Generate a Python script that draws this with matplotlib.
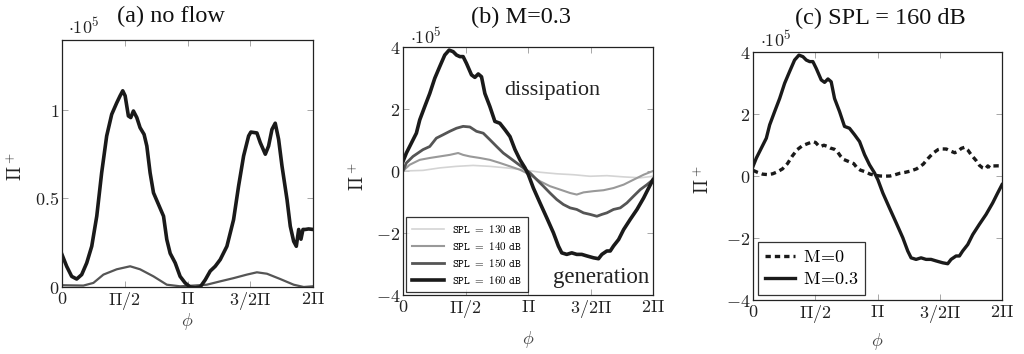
import numpy as np
import matplotlib
matplotlib.use("Agg")
import matplotlib.pyplot as plt

plt.rcParams['mathtext.fontset'] = 'cm'
plt.rcParams['font.family'] = ['DejaVu Serif']

# ---- data (phi in units of pi, values in units of 1e5) ----
phi_a160 = [0, 0.037, 0.077, 0.117, 0.157, 0.197, 0.237, 0.277, 0.316, 0.356, 0.396, 0.436, 0.463, 0.484,
            0.503, 0.529, 0.548, 0.569, 0.596, 0.622, 0.654, 0.676, 0.702, 0.729, 0.769, 0.809, 0.835, 0.862,
            0.902, 0.941, 0.981, 1.021, 1.061, 1.101, 1.141, 1.181, 1.221, 1.261, 1.314, 1.367, 1.407, 1.447,
            1.487, 1.505, 1.553, 1.580, 1.620, 1.646, 1.673, 1.699, 1.726, 1.753, 1.793, 1.819, 1.846, 1.867,
            1.886, 1.904, 1.920, 1.939, 1.965, 2.0]
val_a160 = [0.183, 0.117, 0.06, 0.045, 0.07, 0.136, 0.23, 0.40, 0.645, 0.853, 0.975, 1.04, 1.08, 1.108,
            1.08, 0.966, 0.957, 0.994, 0.957, 0.90, 0.862, 0.796, 0.645, 0.532, 0.466, 0.40, 0.268, 0.19,
            0.136, 0.06, 0.023, 0.0, -0.005, 0.0, 0.04, 0.09, 0.117, 0.155, 0.23, 0.38, 0.57, 0.74,
            0.853, 0.875, 0.87, 0.815, 0.75, 0.796, 0.89, 0.925, 0.834, 0.683, 0.494, 0.343, 0.258, 0.23,
            0.325, 0.27, 0.325, 0.325, 0.328, 0.325]

phi_a150 = [0, 0.170, 0.250, 0.330, 0.436, 0.543, 0.622, 0.729, 0.835, 0.941, 1.048, 1.154, 1.261, 1.367,
            1.473, 1.553, 1.633, 1.739, 1.846, 1.926, 2.0]
val_a150 = [0.01, 0.008, 0.023, 0.07, 0.10, 0.117, 0.10, 0.06, 0.013, 0.004, 0.008, 0.013, 0.032, 0.05,
            0.07, 0.083, 0.075, 0.045, 0.013, 0.0, 0.004]

phi_b160 = [0, 0.027, 0.067, 0.107, 0.134, 0.174, 0.214, 0.254, 0.294, 0.334, 0.369, 0.401, 0.428, 0.455,
            0.481, 0.508, 0.548, 0.575, 0.602, 0.628, 0.655, 0.695, 0.735, 0.775, 0.816, 0.856, 0.896, 0.936,
            0.976, 1.003, 1.043, 1.096, 1.150, 1.203, 1.243, 1.270, 1.310, 1.350, 1.390, 1.430, 1.471, 1.524,
            1.564, 1.591, 1.631, 1.658, 1.684, 1.725, 1.765, 1.818, 1.872, 1.925, 1.965, 2.0]
val_b160 = [0.31, 0.58, 0.90, 1.22, 1.65, 2.08, 2.50, 2.99, 3.37, 3.74, 3.90, 3.85, 3.74, 3.69,
            3.69, 3.47, 3.10, 3.02, 3.13, 3.04, 2.50, 2.08, 1.60, 1.54, 1.33, 1.11, 0.69, 0.36,
            0.10, -0.12, -0.55, -1.03, -1.51, -1.99, -2.42, -2.64, -2.69, -2.64, -2.69, -2.69, -2.74, -2.80,
            -2.83, -2.69, -2.58, -2.58, -2.42, -2.21, -1.89, -1.56, -1.24, -0.87, -0.55, -0.28]

phi_b150 = [0, 0.027, 0.080, 0.160, 0.214, 0.267, 0.321, 0.374, 0.428, 0.481, 0.535, 0.588, 0.642, 0.695,
            0.749, 0.802, 0.856, 0.909, 0.963, 1.016, 1.070, 1.123, 1.176, 1.230, 1.283, 1.337, 1.390, 1.444,
            1.497, 1.551, 1.591, 1.631, 1.684, 1.738, 1.791, 1.845, 1.898, 1.952, 2.0]
val_b150 = [0.0, 0.26, 0.47, 0.69, 0.79, 1.06, 1.17, 1.28, 1.38, 1.44, 1.42, 1.28, 1.22, 1.01,
            0.79, 0.58, 0.42, 0.26, 0.10, -0.06, -0.28, -0.49, -0.71, -0.92, -1.08, -1.19, -1.24, -1.35,
            -1.40, -1.46, -1.40, -1.35, -1.24, -1.19, -1.03, -0.81, -0.60, -0.44, -0.28]

phi_b140 = [0, 0.053, 0.134, 0.214, 0.294, 0.374, 0.441, 0.481, 0.535, 0.615, 0.695, 0.775, 0.856, 0.936,
            1.016, 1.096, 1.176, 1.257, 1.337, 1.390, 1.444, 1.524, 1.604, 1.684, 1.765, 1.845, 1.925, 2.0]
val_b140 = [0.0, 0.20, 0.36, 0.42, 0.47, 0.52, 0.58, 0.52, 0.47, 0.42, 0.36, 0.26, 0.15, 0.04,
            -0.12, -0.33, -0.49, -0.60, -0.71, -0.76, -0.69, -0.65, -0.62, -0.55, -0.44, -0.28, -0.12, 0.0]

phi_b130 = [0, 0.160, 0.294, 0.428, 0.561, 0.695, 0.829, 0.963, 1.096, 1.230, 1.364, 1.497, 1.631, 1.765,
            1.898, 2.0]
val_b130 = [0.0, 0.02, 0.10, 0.15, 0.18, 0.15, 0.10, 0.04, -0.04, -0.09, -0.12, -0.17, -0.15, -0.19,
            -0.22, -0.17]

xtick_labels = [r'$0$', r'$\Pi/2$', r'$\Pi$', r'$3/2\Pi$', r'$2\Pi$']
titles = ['(a) no flow', '(b) M=0.3', '(c) SPL = 160 dB']
spl_labels = [r'$\mathtt{SPL\ =\ 130\ dB}$', r'$\mathtt{SPL\ =\ 140\ dB}$',
              r'$\mathtt{SPL\ =\ 150\ dB}$', r'$\mathtt{SPL\ =\ 160\ dB}$']
mach_labels = [r'$\mathrm{M}\!=\!0$', r'$\mathrm{M}\!=\!0.3$']

# ---- figure ----
fig = plt.figure(figsize=(10.24, 3.54), dpi=100)
W, H = 1024, 354

def make_ax(l, r, t, b):
    return fig.add_axes([l / W, 1 - b / H, (r - l) / W, (b - t) / H])

axA = make_ax(62, 313, 40, 287)
axB = make_ax(403, 653, 47, 295)
axC = make_ax(753, 1002, 52, 300)

pi = np.pi
def P(a):
    return np.array(a) * pi

for ax in (axA, axB, axC):
    ax.set_xlim(0, 2 * pi)
    ax.set_xticks([0, pi / 2, pi, 3 * pi / 2, 2 * pi])
    ax.set_xticklabels(xtick_labels)
    ax.tick_params(direction='in', top=True, right=True, length=4, width=0.6, labelsize=13, pad=2,
                   colors='#999999', labelcolor='#222222')
    for s in ax.spines.values():
        s.set_linewidth(0.9)
        s.set_color('#222222')

# axis labels placed to match the reference
for (xl, yl) in (((187, 322), (16, 167)), ((528, 340), (358, 177)), ((877, 342), (703, 180))):
    fig.text(xl[0] / W, 1 - xl[1] / H, r'$\phi$', fontsize=13, ha='center', va='center', color='#444444')
    fig.text(yl[0] / W, 1 - yl[1] / H, r'$\Pi^+$', fontsize=13.5, ha='center', va='center',
             rotation=90, color='#222222')

# (a)
axA.plot(P(phi_a150), val_a150, color='#555555', lw=1.6)
axA.plot(P(phi_a160), val_a160, color='#1a1a1a', lw=2.6)
axA.set_ylim(0, 1.395)
axA.set_yticks([0, 0.5, 1])
axA.set_yticklabels([r'$0$', r'$0.5$', r'$1$'])

# (b)
colsB = ['#d4d4d4', '#999999', '#555555', '#1a1a1a']
lwsB = [1.2, 1.5, 2.0, 2.6]
dataB = [(phi_b130, val_b130), (phi_b140, val_b140), (phi_b150, val_b150), (phi_b160, val_b160)]
for (px, pv), c, lw, lab in zip(dataB, colsB, lwsB, spl_labels):
    axB.plot(P(px), pv, color=c, lw=lw, label=lab)
axB.set_ylim(-4, 4)
axB.set_yticks([-4, -2, 0, 2, 4])
axB.set_yticklabels([r'$-4$', r'$-2$', r'$0$', r'$2$', r'$4$'])
legB = axB.legend(loc='lower left', frameon=True, fancybox=False, edgecolor='black',
                  handlelength=2.9, handletextpad=0.7, borderaxespad=0.25, labelspacing=0.45,
                  borderpad=0.55, prop={'size': 8})
legB.get_frame().set_linewidth(0.9)
fig.text(552 / W, 1 - 90 / H, 'dissipation', ha='center', va='center',
         fontsize=16, family='Liberation Serif', color='#222222')
fig.text(601 / W, 1 - 277 / H, 'generation', ha='center', va='center',
         fontsize=16.5, family='Liberation Serif', color='#222222')

# (c)
axC.plot(P(phi_a160), val_a160, color='#1a1a1a', lw=2.4, ls=(0, (1.6, 1.2)), label=mach_labels[0])
axC.plot(P(phi_b160), val_b160, color='#1a1a1a', lw=2.4, label=mach_labels[1])
axC.set_ylim(-4, 4)
axC.set_yticks([-4, -2, 0, 2, 4])
axC.set_yticklabels([r'$-4$', r'$-2$', r'$0$', r'$2$', r'$4$'])
legC = axC.legend(loc='lower left', fancybox=False, edgecolor='black', handlelength=1.7,
                  handletextpad=0.4, borderaxespad=0.3, labelspacing=0.22, borderpad=0.35,
                  prop={'size': 13})
legC.get_frame().set_linewidth(0.9)

# scale labels
for (x, y) in ((68, 27), (410, 37), (760, 40)):
    fig.text(x / W, 1 - y / H, r'$\cdot 10^5$', fontsize=13, ha='left', va='center', color='#222222')

# titles
for t, (x, y) in zip(titles, ((171, 16), (521, 17), (880, 18))):
    fig.text(x / W, 1 - y / H, t, fontsize=17.5, ha='center', va='center', family='Liberation Serif',
             color='#111111')

fig.savefig('out.png', dpi=100)
